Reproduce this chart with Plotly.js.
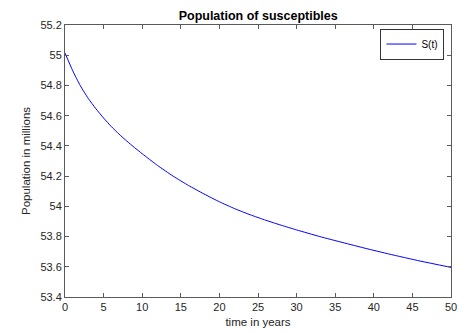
<!DOCTYPE html>
<html>
<head>
<meta charset="utf-8">
<script src="https://cdn.plot.ly/plotly-3.0.1.min.js"></script>
<style>
  html, body { margin: 0; padding: 0; background: #fff; }
  #chart { width: 472px; height: 333px; }
</style>
</head>
<body>
<div id="chart"></div>
<script>
/* Population of susceptibles — S(t) */

const years = [0, 1, 2, 3, 4, 5, 6, 7, 8, 9, 10, 12, 14, 16, 18, 20, 22, 24, 26, 28, 30, 33, 36, 39, 42, 46, 50];
const susceptibles = [55.015, 54.897, 54.797, 54.715, 54.646, 54.584, 54.528, 54.478, 54.432, 54.389, 54.348,
  54.27, 54.20, 54.138, 54.082, 54.03, 53.984, 53.944, 53.908, 53.875, 53.844, 53.80,
  53.76, 53.721, 53.684, 53.638, 53.596];

const xTicks = [0, 5, 10, 15, 20, 25, 30, 35, 40, 45, 50];
const yTicks = [53.4, 53.6, 53.8, 54, 54.2, 54.4, 54.6, 54.8, 55, 55.2];

const FONT = 'Liberation Sans, Arial, Helvetica, sans-serif';
const AXIS_GREY = '#5a5a5a';

const axisBase = {
  showline: true,
  linecolor: AXIS_GREY,
  linewidth: 1,
  mirror: 'ticks',
  ticks: 'inside',
  ticklen: 4,
  tickcolor: AXIS_GREY,
  showgrid: false,
  zeroline: false,
  tickfont: { family: FONT, size: 11, color: '#262626' },
};

Plotly.newPlot('chart', [{
  x: years,
  y: susceptibles,
  mode: 'lines',
  name: 'S(t)',
  line: { color: '#0000ff', width: 1, shape: 'spline', smoothing: 0.5 },
}], {
  width: 472,
  height: 333,
  margin: { l: 65, r: 21, t: 25, b: 36 },
  paper_bgcolor: '#fff',
  plot_bgcolor: '#fff',
  font: { family: FONT, size: 11, color: '#262626' },
  title: {
    text: '<b>Population of susceptibles</b>',
    font: { family: FONT, size: 12.5, color: '#000' },
    x: 0.547, xanchor: 'center',
    y: 0.952, yanchor: 'middle',
  },
  xaxis: {
    ...axisBase,
    range: [0, 50],
    tickvals: xTicks,
    ticktext: xTicks.map(String),
    title: { text: 'time in years', font: { family: FONT, size: 11.5, color: '#262626' }, standoff: 5 },
  },
  yaxis: {
    ...axisBase,
    range: [53.4, 55.2],
    tickvals: yTicks,
    ticktext: yTicks.map(String),
    title: { text: 'Population in millions', font: { family: FONT, size: 11.5, color: '#262626' }, standoff: 7 },
  },
  showlegend: true,
  legend: {
    x: 0.983, xanchor: 'right',
    y: 0.987, yanchor: 'top',
    bgcolor: '#fff',
    bordercolor: '#333',
    borderwidth: 1,
    font: { family: FONT, size: 10, color: '#000' },
    tracegroupgap: 0,
  },
}, { displayModeBar: false, staticPlot: true });
</script>
</body>
</html>
